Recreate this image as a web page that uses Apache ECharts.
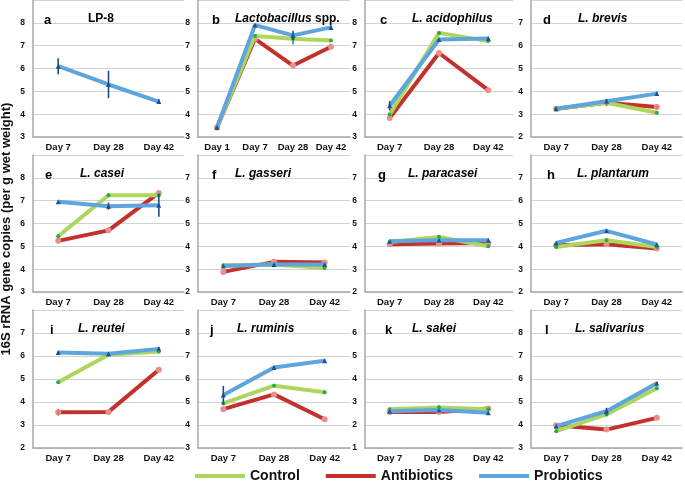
<!DOCTYPE html>
<html><head><meta charset="utf-8">
<script src="https://cdn.jsdelivr.net/npm/echarts@6/dist/echarts.min.js"></script>
<style>html,body{margin:0;padding:0;background:#fff}#c{width:685px;height:481px}</style>
</head><body><div id="c"></div>
<script>
// ---------- DATA ----------
const days3 = ['Day 7', 'Day 28', 'Day 42'];
const days4 = ['Day 1', 'Day 7', 'Day 28', 'Day 42'];
const panelLetters = ['a','b','c','d','e','f','g','h','i','j','k','l'];
const panelTitles = ['LP-8','{i|Lactobacillus} spp.','{i|L. acidophilus}','{i|L. brevis}','{i|L. casei}','{i|L. gasseri}','{i|L. paracasei}','{i|L. plantarum}','{i|L. reutei}','{i|L. ruminis}','{i|L. sakei}','{i|L. salivarius}'];
const yMin = [3,3,3,2,3,2,2,2,2,3,1,3];
const yTickLabels = yMin.map(m => [m, m+1, m+2, m+3, m+4, m+5]);
const seriesNames = ['Control', 'Antibiotics', 'Probiotics'];

const controlValues = [
  null,
  [3.42, 7.42, 7.30, 7.23],
  [3.98, 7.56, 7.20],
  [3.24, 3.50, 3.06],
  [5.44, 7.24, 7.24],
  [3.17, 3.20, 3.05],
  [4.19, 4.41, 4.00],
  [3.97, 4.27, 3.97],
  [4.86, 6.05, 6.20],
  [4.94, 5.71, 5.42],
  [2.68, 2.76, 2.68],
  [3.73, 4.46, 5.60]
];
const antibioticsValues = [
  null,
  [3.42, 7.30, 6.13, 6.95],
  [3.83, 6.68, 5.05],
  [3.24, 3.50, 3.31],
  [5.24, 5.70, 7.34],
  [2.88, 3.32, 3.29],
  [4.09, 4.12, 4.15],
  [4.05, 4.09, 3.90],
  [3.55, 3.57, 5.40],
  [4.69, 5.33, 4.25],
  [2.57, 2.57, 2.72],
  [3.99, 3.80, 4.31]
];
const probioticsValues = [
  [6.10, 5.30, 4.55],
  [3.42, 7.90, 7.45, 7.80],
  [4.37, 7.27, 7.31],
  [3.24, 3.57, 3.90],
  [6.95, 6.76, 6.80],
  [3.14, 3.20, 3.20],
  [4.22, 4.27, 4.27],
  [4.15, 4.68, 4.08],
  [6.15, 6.10, 6.31],
  [5.30, 6.50, 6.79],
  [2.60, 2.65, 2.53],
  [3.95, 4.60, 5.81]
];
// error bar half-widths (0 = none visible)
const controlErrors = [
  null, [0,0,0.25,0], [0,0,0], [0,0,0], [0,0,0], [0,0,0], [0,0.08,0], [0,0,0],
  [0,0,0.08], [0,0,0.08], [0,0.1,0], [0.07,0,0.08]
];
const antibioticsErrors = [
  null, [0,0,0,0], [0,0,0], [0,0.15,0.06], [0,0,0], [0,0,0], [0,0,0], [0,0,0],
  [0.15,0,0], [0,0,0], [0,0,0], [0,0,0]
];
const probioticsErrors = [
  [0.35,0.6,0.1], [0,0,0.2,0.08], [0.2,0,0.05], [0,0.1,0.05], [0,0.15,0.5], [0,0,0], [0,0,0], [0,0,0],
  [0.05,0,0.08], [0.4,0.05,0.05], [0,0,0], [0,0.15,0.05]
];
const yAxisTitle = '16S rRNA gene copies (per g wet weight)';

// ---------- STYLE / LAYOUT ----------
const FONT = 'Arial, "Liberation Sans", sans-serif';
const lineColors = { Control: '#acd65c', Antibiotics: '#c3312d', Probiotics: '#5da5dc' };
const markColors = { Control: '#2aa84a', Antibiotics: '#e98f8a', Probiotics: '#1d5595' };
const errColors  = { Control: '#2aa84a', Antibiotics: '#d9706b', Probiotics: '#1d4a8a' };
const symbols    = { Control: 'circle', Antibiotics: 'circle', Probiotics: 'triangle' };
const symSizes   = { Control: 4, Antibiotics: 6, Probiotics: 5 };
const zs         = { Control: 3, Antibiotics: 2, Probiotics: 4 };
const colLeft  = [33, 198, 365, 531];
const colWidth = [151, 152, 148, 151];
const rowTop   = [0, 155, 310];
const rowH     = [137, 137, 138];
const titleX   = [83, 230, 407, 573, 75, 230, 403, 572, 73, 232, 407, 570];
const letterX  = [39, 207, 375, 538, 40, 207, 373, 542, 45, 205, 380, 540];

const grids = [], xAxes = [], yAxes = [], series = [], titles = [];
for (let p = 0; p < 12; p++) {
  const r = Math.floor(p / 4), c = p % 4;
  grids.push({ left: colLeft[c], top: rowTop[r], width: colWidth[c], height: rowH[r] });
  const cats = p === 1 ? days4 : days3;
  xAxes.push({
    type: 'category', gridIndex: p, data: cats, boundaryGap: true,
    axisLine: { lineStyle: { color: '#a8a8a8', width: 1.5 } },
    axisTick: { show: false },
    axisLabel: { color: '#111', fontFamily: FONT, fontWeight: 'bold', fontSize: 9.5, margin: 5, interval: 0 }
  });
  const mn = yMin[p];
  const labels = yTickLabels[p];
  yAxes.push({
    type: 'value', gridIndex: p, min: mn, max: mn + 6, interval: 1,
    axisLine: { show: true, lineStyle: { color: '#a8a8a8', width: 1.5 } },
    axisTick: { show: false },
    splitLine: { lineStyle: { color: '#d2d2d2', width: 1 } },
    axisLabel: {
      color: '#111', fontFamily: FONT, fontWeight: 'bold', fontSize: 8.5, margin: 8,
      formatter: v => labels.indexOf(v) >= 0 ? String(v) : ''
    }
  });
  titles.push({
    text: panelLetters[p], left: letterX[p], top: rowTop[r] + 9,
    textStyle: { fontFamily: FONT, fontWeight: 'bold', fontSize: 13, color: '#000' }
  });
  titles.push({
    text: panelTitles[p], left: titleX[p], top: rowTop[r] + 8,
    textStyle: {
      fontFamily: FONT, fontWeight: 'bold', fontSize: 12, color: '#000',
      rich: { i: { fontFamily: FONT, fontWeight: 'bold', fontStyle: 'italic', fontSize: 12, color: '#000' } }
    }
  });
  const groups = [
    ['Antibiotics', antibioticsValues[p], antibioticsErrors[p]],
    ['Control', controlValues[p], controlErrors[p]],
    ['Probiotics', probioticsValues[p], probioticsErrors[p]]
  ];
  groups.forEach(([name, vals, errs]) => {
    if (!vals) return;
    series.push({
      name, type: 'line', xAxisIndex: p, yAxisIndex: p, data: vals,
      symbol: symbols[name], symbolSize: symSizes[name], showSymbol: true,
      lineStyle: { color: lineColors[name], width: 4 },
      itemStyle: { color: markColors[name], borderWidth: 0 },
      z: zs[name], animation: false, silent: true
    });
    const eb = [];
    vals.forEach((v, i) => { if (errs && errs[i] > 0) eb.push([i, v - errs[i], v + errs[i]]); });
    if (eb.length) {
      series.push({
        type: 'custom', xAxisIndex: p, yAxisIndex: p, data: eb, z: zs[name] + 5, silent: true,
        animation: false,
        renderItem: (params, api) => {
          const a = api.coord([api.value(0), api.value(1)]);
          const b = api.coord([api.value(0), api.value(2)]);
          return { type: 'line', shape: { x1: a[0], y1: a[1], x2: b[0], y2: b[1] },
                   style: { stroke: errColors[name], lineWidth: 1.6 } };
        }
      });
    }
  });
}

const chart = echarts.init(document.getElementById('c'), null, { renderer: 'canvas' });
chart.setOption({
  animation: false,
  title: titles,
  grid: grids, xAxis: xAxes, yAxis: yAxes, series,
  legend: {
    data: seriesNames.map(n => ({ name: n, itemStyle: { color: lineColors[n] } })),
    left: 190, top: 464, itemWidth: 50, itemHeight: 4, icon: 'rect', itemGap: 26,
    textStyle: { fontFamily: FONT, fontWeight: 'bold', fontSize: 14, color: '#111' }
  },
  graphic: [{
    type: 'text', x: 0, y: 229, rotation: Math.PI / 2,
    style: { text: yAxisTitle, font: 'bold 13px ' + FONT, fill: '#111', align: 'center', verticalAlign: 'top' }
  }]
});
</script></body></html>
